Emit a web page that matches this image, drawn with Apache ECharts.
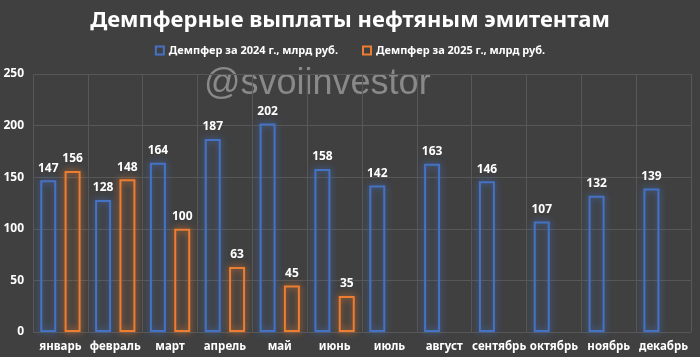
<!DOCTYPE html>
<html><head><meta charset="utf-8">
<script src="https://cdn.jsdelivr.net/npm/echarts@6/dist/echarts.min.js"></script>
<style>html,body{margin:0;padding:0;background:#404040;}#c{width:700px;height:357px;}</style>
</head><body><div id="c"></div>
<script>
const categories = ['январь','февраль','март','апрель','май','июнь','июль','август','сентябрь','октябрь','ноябрь','декабрь'];
const values2024 = [147,128,164,187,202,158,142,163,146,107,132,139];
const values2025 = [156,148,100,63,45,35,null,null,null,null,null,null];
const seriesNames = ['Демпфер за 2024 г., млрд руб.','Демпфер за 2025 г., млрд руб.'];
const yTicks = [0,50,100,150,200,250];

const chart = echarts.init(document.getElementById('c'), null, {renderer:'canvas'});
const blue = '#4472C4', orange = '#ED7D31';
function barSeries(name, data, col){
  return {
    name, type:'bar', data, barWidth:16, barGap:'52%',
    itemStyle:{color:'rgba(0,0,0,0)', borderColor:col, borderWidth:2, shadowBlur:7, shadowColor:col},
    label:{show:true, position:'top', distance:6, color:'#ffffff', fontWeight:'bold', fontSize:12, fontFamily:'Noto Sans'},
    emphasis:{disabled:true}
  };
}
chart.setOption({
  backgroundColor:'#404040',
  animation:false,
  title:{text:'Демпферные выплаты нефтяным эмитентам', left:'center', top:5,
    textStyle:{color:'#ffffff', fontSize:22, fontWeight:'bold', fontFamily:'Noto Sans'}},
  legend:{top:40, left:'center', itemWidth:8, itemHeight:8, itemGap:24, icon:'rect',
    textStyle:{color:'#ffffff', fontSize:11, fontWeight:'bold', fontFamily:'Noto Sans'},
    data:seriesNames.map(n=>({name:n}))},
  graphic:[{type:'text', left:204, top:66, silent:true, z:0,
    style:{text:'@svoiinvestor', fill:'rgba(150,150,150,0.85)', font:'36px "Liberation Sans", Arial, sans-serif'}}],
  grid:{left:33, right:9, top:74, bottom:25, containLabel:false},
  xAxis:{type:'category', data:categories,
    axisLine:{show:false}, axisTick:{show:false},
    splitLine:{show:true, lineStyle:{color:'#575757', width:1}},
    axisLabel:{color:'#ffffff', fontWeight:'bold', fontSize:11.5, fontFamily:'Noto Sans', margin:9, interval:0}},
  yAxis:{type:'value', min:yTicks[0], max:yTicks[yTicks.length-1], interval:50,
    axisLine:{show:false}, axisTick:{show:false},
    splitLine:{lineStyle:{color:'#575757', width:1}},
    axisLabel:{color:'#ffffff', fontWeight:'bold', fontSize:12, fontFamily:'Noto Sans', margin:9}},
  series:[barSeries(seriesNames[0], values2024, blue), barSeries(seriesNames[1], values2025, orange)]
});
</script></body></html>
